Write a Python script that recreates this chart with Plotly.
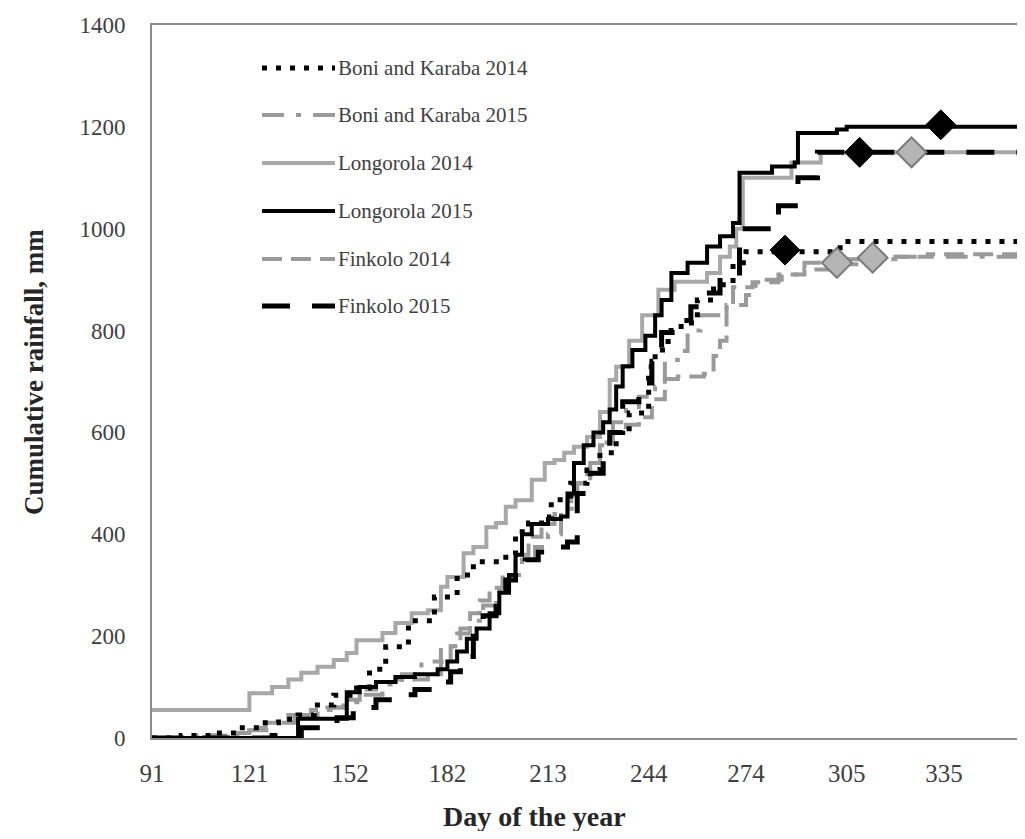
import plotly.graph_objects as go

# ---------------- data ----------------
month_ticks = [91, 121, 152, 182, 213, 244, 274, 305, 335]
y_ticks = [0, 200, 400, 600, 800, 1000, 1200, 1400]

series_names = ["Boni and Karaba 2014", "Boni and Karaba 2015", "Longorola 2014",
                "Longorola 2015", "Finkolo 2014", "Finkolo 2015"]

boni14_days = [91, 100, 110, 118, 124, 130, 136, 141, 147, 152, 158, 163, 170, 178, 185, 190,
               200, 203, 207, 211, 214, 220, 225, 229, 234, 238, 244, 246, 250, 254, 259, 264,
               270, 274, 300, 303, 365]
boni14_vals = [0, 5, 10, 20, 30, 37, 45, 65, 84, 98, 135, 179, 230, 277, 320, 346,
               360, 405, 422, 434, 468, 500, 526, 560, 600, 638, 729, 762, 800, 815, 860, 890,
               933, 955, 955, 975, 975]

boni15_days = [91, 110, 121, 128, 135, 142, 150, 156, 162, 168, 174, 180, 185, 189, 193, 197,
               201, 205, 209, 213, 217, 221, 225, 229, 233, 237, 241, 246, 249, 253, 256, 260,
               268, 274, 277, 285, 292, 300, 312, 365]
boni15_vals = [0, 5, 15, 30, 45, 60, 70, 85, 105, 125, 150, 180, 205, 230, 260, 290,
               320, 350, 375, 400, 450, 500, 540, 580, 620, 650, 670, 690, 742, 760, 800, 830,
               850, 870, 900, 910, 933, 940, 945, 950]

long14_days = [91, 121, 128, 133, 137, 142, 147, 151, 154, 162, 166, 171, 176, 180, 182, 187,
               190, 194, 197, 200, 203, 208, 212, 215, 218, 221, 225, 229, 232, 234, 238, 242,
               247, 252, 262, 266, 269, 271, 273, 288, 297, 365]
long14_vals = [55, 88, 100, 115, 128, 140, 153, 167, 192, 206, 226, 245, 251, 297, 316, 363,
               375, 414, 422, 454, 467, 507, 540, 546, 560, 572, 591, 640, 703, 729, 780, 830,
               880, 896, 913, 945, 965, 1000, 1100, 1130, 1150, 1150]

long15_days = [91, 136, 151, 155, 160, 166, 172, 179, 182, 185, 188, 191, 195, 198, 201, 203,
               205, 208, 213, 217, 219, 221, 224, 227, 230, 232, 234, 236, 239, 243, 246, 248,
               251, 256, 262, 266, 270, 272, 282, 289, 290, 302, 305, 365]
long15_vals = [0, 38, 90, 100, 110, 120, 125, 135, 150, 170, 195, 215, 245, 285, 320, 360,
               400, 420, 430, 435, 480, 540, 575, 600, 620, 645, 690, 730, 762, 790, 830, 860,
               913, 933, 965, 985, 1011, 1110, 1122, 1130, 1188, 1195, 1200, 1200]

fink14_days = [91, 105, 115, 121, 126, 133, 140, 146, 150, 155, 160, 166, 172, 176, 180, 183,
               186, 189, 192, 195, 199, 203, 207, 211, 215, 219, 222, 226, 229, 233, 237, 241,
               245, 249, 253, 261, 264, 266, 268, 270, 276, 284, 292, 300, 310, 320, 330, 365]
fink14_vals = [0, 5, 10, 20, 30, 45, 55, 60, 75, 95, 110, 115, 115, 125, 150, 180,
               215, 245, 270, 295, 320, 360, 395, 420, 440, 465, 500, 540, 575, 600, 615, 630,
               665, 705, 710, 715, 750, 780, 850, 885, 895, 910, 920, 930, 940, 945, 950, 955]

fink15_days = [91, 128, 137, 148, 153, 160, 166, 172, 178, 183, 186, 190, 193, 197, 200, 203,
               206, 210, 214, 219, 222, 226, 230, 232, 236, 241, 245, 248, 252, 257, 260, 266,
               272, 280, 284, 290, 296, 365]
fink15_vals = [0, 5, 20, 40, 60, 75, 85, 95, 110, 130, 160, 200, 240, 280, 310, 330,
               350, 365, 375, 385, 480, 520, 552, 600, 660, 697, 740, 796, 820, 847, 874, 906,
               1000, 1000, 1045, 1100, 1150, 1150]

# harvest / event markers
black_marker_days = [286, 309, 334]
black_marker_vals = [958, 1150, 1204]
gray_marker_days = [302, 313, 325]
gray_marker_vals = [933, 943, 1150]

x_title = "Day of the year"
y_title = "Cumulative rainfall, mm"

# ---------------- styles ----------------
styles = [
    dict(color="#000000", width=5, dash="5px,9px"),
    dict(color="#9a9a9a", width=4, dash="22px,12px,5px,12px"),
    dict(color="#a8a8a8", width=4, dash="solid"),
    dict(color="#000000", width=4, dash="solid"),
    dict(color="#9a9a9a", width=4, dash="20px,9px"),
    dict(color="#000000", width=5, dash="28px,22px"),
]
xs = [boni14_days, boni15_days, long14_days, long15_days, fink14_days, fink15_days]
ys = [boni14_vals, boni15_vals, long14_vals, long15_vals, fink14_vals, fink15_vals]
draw_order = [4, 1, 2, 0, 5, 3]

fig = go.Figure()
for i in draw_order:
    fig.add_trace(go.Scatter(x=xs[i], y=ys[i], mode="lines", name=series_names[i],
                             line=dict(shape="hv", **styles[i]), showlegend=False))

fig.add_trace(go.Scatter(x=gray_marker_days, y=gray_marker_vals, mode="markers", showlegend=False,
                         marker=dict(symbol="diamond", size=23, color="#b5b5b5",
                                     line=dict(color="#7a7a7a", width=2))))
fig.add_trace(go.Scatter(x=black_marker_days, y=black_marker_vals, mode="markers", showlegend=False,
                         marker=dict(symbol="diamond", size=23, color="#000000",
                                     line=dict(color="#000000", width=1))))

# ---------------- layout geometry (screen px; page body has an 8px margin) ----------------
OFF = 8
L, R, T, B = 152, 1025, 25, 738
FIG_W, FIG_H = 1025 - OFF, 839 - 2 * OFF
def px_x(p):
    return (p - L) / (R - L)
def px_y(p):
    return (B - p) / (B - T)

# manual legend (long line samples as in the reference)
rows = [68, 115, 163, 211, 259, 306]
for i, ry in enumerate(rows):
    st = styles[i]
    fig.add_shape(type="line", xref="paper", yref="paper",
                  x0=px_x(262), x1=px_x(335), y0=px_y(ry), y1=px_y(ry),
                  line=dict(color=st["color"], width=st["width"], dash=st["dash"]))
    fig.add_annotation(xref="paper", yref="paper", x=px_x(336), y=px_y(ry),
                       xanchor="left", yanchor="middle", showarrow=False,
                       text=series_names[i],
                       font=dict(family="Liberation Serif", size=21, color="#404040"))

# axis titles
fig.add_annotation(xref="paper", yref="paper", x=px_x(534), y=px_y(816),
                   xanchor="center", yanchor="middle", showarrow=False,
                   text="<b>" + x_title + "</b>",
                   font=dict(family="Liberation Serif", size=28, color="#262626"))
fig.add_annotation(xref="paper", yref="paper", x=px_x(34), y=px_y(372),
                   xanchor="center", yanchor="middle", showarrow=False, textangle=-90,
                   text="<b>" + y_title + "</b>",
                   font=dict(family="Liberation Serif", size=27, color="#262626"))

fig.update_layout(
    width=FIG_W, height=FIG_H,
    margin=dict(l=L - OFF, r=0, t=T - OFF, b=FIG_H - (B - OFF)),
    paper_bgcolor="white", plot_bgcolor="white",
    font=dict(family="Liberation Serif", size=21, color="#404040"),
    xaxis=dict(range=[91, 91 + (R - L) / 3.246], tickvals=month_ticks,
               ticktext=[str(v) for v in month_ticks],
               showgrid=False, zeroline=False, showline=True, mirror=True,
               linecolor="#8c8c8c", linewidth=2, ticks="",
               ticklabelstandoff=12,
               tickfont=dict(family="Liberation Serif", size=25, color="#404040")),
    yaxis=dict(range=[0, 1400], tickvals=y_ticks, showgrid=False, zeroline=False,
               showline=True, mirror=False, linecolor="#8c8c8c", linewidth=2, ticks="",
               ticklabelstandoff=20,
               tickfont=dict(family="Liberation Serif", size=23, color="#404040")),
)

fig.write_html("out.html")
